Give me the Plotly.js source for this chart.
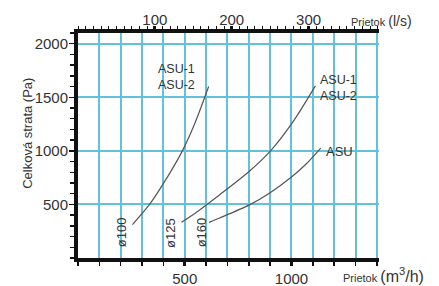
<!DOCTYPE html>
<html><head><meta charset="utf-8">
<script src="https://cdn.plot.ly/plotly-3.0.1.min.js"></script>
<style>body{margin:0;background:#fff}#c{width:439px;height:286px}</style>
</head><body><div id="c"></div>
<script>
// Data (flow in m3/h, total pressure loss in Pa)
const d100_x = [255, 335, 420, 489, 550, 612];
const d100_y = [312, 500, 760, 1000, 1270, 1600];
const d125_x = [485, 560, 664, 800, 902, 1010, 1112];
const d125_y = [333, 435, 591, 805, 1000, 1280, 1606];
const d160_x = [614, 664, 805, 900, 1000, 1070, 1137];
const d160_y = [333, 374, 498, 610, 756, 880, 1026];
const xTicks = [500, 1000];
const yTicks = [500, 1000, 1500, 2000];
const topTicks = [100, 200, 300];
const M3H_PER_LS = 3.6;
const X_MAX = 1410, Y_MAX = 2100;

const grid = '#62c2da';
const txt = '#333';
const curve = {color: '#555', width: 1.2, shape: 'spline', smoothing: 0.8};
const traces = [
  {x: d100_x, y: d100_y, mode: 'lines', line: curve, hoverinfo: 'skip'},
  {x: d125_x, y: d125_y, mode: 'lines', line: curve, hoverinfo: 'skip'},
  {x: d160_x, y: d160_y, mode: 'lines', line: curve, hoverinfo: 'skip'},
  {x: [0], y: [0], xaxis: 'x2', mode: 'markers', marker: {opacity: 0}, hoverinfo: 'skip'}
];
const F = 'Liberation Sans, Arial, sans-serif';
const ann = (x, y, text, extra) => Object.assign({x, y, xref: 'x', yref: 'y', text, showarrow: false,
  font: {family: F, size: 13, color: txt}}, extra || {});
const layout = {
  width: 439, height: 286, showlegend: false,
  margin: {l: 78, r: 60, t: 33, b: 27.5},
  paper_bgcolor: '#fff', plot_bgcolor: '#fff',
  font: {family: F, color: txt},
  xaxis: {range: [0, X_MAX], tickvals: xTicks, ticks: 'outside', ticklen: 4, tickwidth: 3, tickcolor: '#111',
    showgrid: true, gridcolor: grid, gridwidth: 2, zeroline: false,
    showline: true, linecolor: '#111', linewidth: 4,
    tickfont: {size: 15, color: txt},
    minor: {dtick: 100, tick0: 0, ticks: 'outside', ticklen: 4, tickwidth: 1.5, tickcolor: '#111', showgrid: true, gridcolor: grid, gridwidth: 2}},
  xaxis2: {overlaying: 'x', side: 'top', range: [0, X_MAX / M3H_PER_LS], tickvals: topTicks,
    ticks: 'outside', ticklen: 3, tickwidth: 3, tickcolor: '#111', showgrid: false, zeroline: false,
    showline: true, linecolor: '#111', linewidth: 4, tickfont: {size: 15, color: txt}, ticklabelstandoff: -5,
    minor: {dtick: 10, ticks: 'outside', ticklen: 3, tickwidth: 1, tickcolor: '#111', showgrid: false}},
  yaxis: {range: [0, Y_MAX], tickvals: yTicks, ticks: 'outside', ticklen: 5, tickwidth: 1.5, tickcolor: '#111',
    showgrid: true, gridcolor: grid, gridwidth: 2, zeroline: false, ticklabelstandoff: -2,
    showline: true, linecolor: '#111', linewidth: 4, tickfont: {size: 15, color: txt},
    minor: {dtick: 100, ticks: 'outside', ticklen: 4, tickwidth: 1.5, tickcolor: '#111', showgrid: false}},
  annotations: [
    ann(462, 1690, 'ASU-1<br>ASU-2', {font: {family: F, size: 12.5, color: txt}}),
    ann(1222, 1585, 'ASU-1<br>ASU-2', {font: {family: F, size: 12.5, color: txt}}),
    ann(1226, 992, 'ASU'),
    ann(205, 238, 'ø100', {textangle: -90}),
    ann(433, 238, 'ø125', {textangle: -90}),
    ann(580, 238, 'ø160', {textangle: -90}),
    {xref: 'paper', yref: 'paper', x: -0.166, xanchor: 'center', y: 0.552, yanchor: 'middle',
      text: 'Celková strata (Pa)', textangle: -90, showarrow: false,
      font: {family: F, size: 13, color: txt}},
    {xref: 'paper', yref: 'paper', x: 1.0, xanchor: 'left', xshift: -38, y: -0.075, yanchor: 'middle',
      text: "Prietok <span style='font-size:16px'>(m<sup>3</sup>/h)</span>", showarrow: false,
      font: {family: F, size: 11, color: txt}},
    {xref: 'paper', yref: 'paper', x: 1.0, xanchor: 'left', xshift: -30, y: 1.055, yanchor: 'middle',
      text: "Prietok <span style='font-size:14px'>(l/s)</span>", showarrow: false,
      font: {family: F, size: 11, color: txt}}
  ]
};
Plotly.newPlot('c', traces, layout, {staticPlot: true});
</script></body></html>
